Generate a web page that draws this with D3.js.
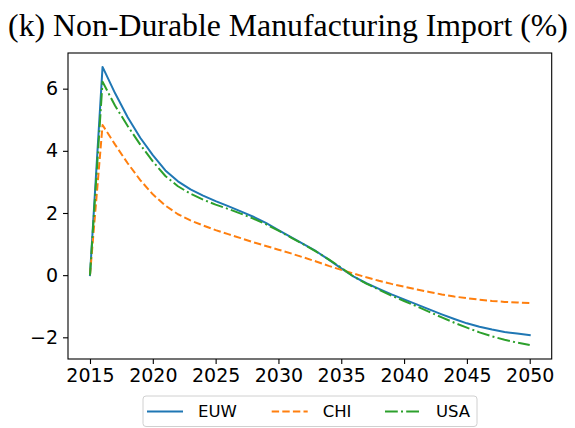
<!DOCTYPE html>
<html><head><meta charset="utf-8">
<script src="https://cdn.jsdelivr.net/npm/d3@7"></script>
<style>body{margin:0;background:#fff;} svg{display:block;}</style>
</head><body>
<script>
const years = d3.range(2015, 2051);
const xTicks = [2015, 2020, 2025, 2030, 2035, 2040, 2045, 2050];
const yTicks = [-2, 0, 2, 4, 6];
const seriesNames = ["EUW", "CHI", "USA"];
const euw = [0, 6.7, 5.85, 5.08, 4.42, 3.86, 3.37, 3.02, 2.76, 2.56, 2.38, 2.22, 2.05, 1.88, 1.68, 1.45, 1.22, 1.0, 0.77, 0.5, 0.22, -0.05, -0.26, -0.44, -0.62, -0.78, -0.94, -1.1, -1.26, -1.41, -1.55, -1.66, -1.75, -1.83, -1.88, -1.93];
const chi = [0, 4.83, 4.2, 3.6, 3.06, 2.6, 2.24, 1.96, 1.76, 1.6, 1.45, 1.32, 1.19, 1.06, 0.94, 0.82, 0.7, 0.57, 0.44, 0.3, 0.17, 0.05, -0.07, -0.18, -0.28, -0.37, -0.46, -0.54, -0.62, -0.69, -0.74, -0.79, -0.83, -0.86, -0.88, -0.9];
const usa = [0, 6.22, 5.45, 4.8, 4.2, 3.66, 3.19, 2.86, 2.62, 2.43, 2.27, 2.13, 1.98, 1.82, 1.64, 1.43, 1.21, 0.99, 0.76, 0.51, 0.24, -0.05, -0.27, -0.47, -0.66, -0.83, -1.0, -1.18, -1.36, -1.53, -1.69, -1.84, -1.97, -2.08, -2.17, -2.25];
const title = "(k) Non-Durable Manufacturing Import (%)";

const W = 575, H = 428;
const m = {left: 68, right: 551.7, top: 53, bottom: 359};
const svg = d3.select("body").append("svg").attr("width", W).attr("height", H);

const allVals = euw.concat(chi, usa);
const ymin = d3.min(allVals), ymax = d3.max(allVals);
const yPad = (ymax - ymin) * 0.05, xPad = (2050 - 2015) * 0.05;
const x = d3.scaleLinear().domain([2015 - xPad, 2050 + xPad]).range([m.left, m.right]);
const y = d3.scaleLinear().domain([ymin - yPad, ymax + yPad]).range([m.bottom, m.top]);

const styles = [
  {data: euw, color: "#1f77b4", dash: null},
  {data: chi, color: "#ff7f0e", dash: "7.4,3.2"},
  {data: usa, color: "#2ca02c", dash: "12.8,3.2,2,3.2"}
];

const line = d3.line().x((d, i) => x(years[i])).y(d => y(d));
const plot = svg.append("g");
styles.forEach(s => {
  plot.append("path").datum(s.data).attr("d", line)
    .attr("fill", "none").attr("stroke", s.color).attr("stroke-width", 2)
    .attr("stroke-dasharray", s.dash).attr("stroke-linecap", s.dash ? "butt" : "square")
    .attr("stroke-linejoin", "round");
});

const font = "DejaVu Sans, sans-serif";
const xAxis = svg.append("g").attr("transform", `translate(0,${m.bottom})`)
  .call(d3.axisBottom(x).tickValues(xTicks).tickFormat(d3.format("d")).tickSizeOuter(0).tickSize(5).tickPadding(5));
const yAxis = svg.append("g").attr("transform", `translate(${m.left},0)`)
  .call(d3.axisLeft(y).tickValues(yTicks).tickFormat(d => d < 0 ? "\u2212" + Math.abs(d) : d).tickSizeOuter(0).tickSize(5).tickPadding(5));
[xAxis, yAxis].forEach(a => {
  a.select(".domain").remove();
  a.selectAll("text").attr("font-family", font).attr("font-size", 19).attr("fill", "#000");
  a.selectAll("line").attr("stroke", "#000").attr("stroke-width", 1.1);
});

svg.append("rect").attr("x", m.left).attr("y", m.top)
  .attr("width", m.right - m.left).attr("height", m.bottom - m.top)
  .attr("fill", "none").attr("stroke", "#000").attr("stroke-width", 1.1);

svg.append("text").attr("x", 288).attr("y", 36).attr("text-anchor", "middle")
  .attr("font-family", "Liberation Serif, Times New Roman, serif").attr("font-size", 31.8)
  .attr("fill", "#000").text(title);

// legend
const lg = svg.append("g");
lg.append("rect").attr("x", 143).attr("y", 396).attr("width", 334).attr("height", 30.5)
  .attr("rx", 3).attr("fill", "#fff").attr("fill-opacity", 0.8)
  .attr("stroke", "#d0d0d0").attr("stroke-width", 1);
const lx = [147, 271.7, 385];
seriesNames.forEach((n, i) => {
  const s = styles[i];
  lg.append("line").attr("x1", lx[i]).attr("x2", lx[i] + 36).attr("y1", 411.5).attr("y2", 411.5)
    .attr("stroke", s.color).attr("stroke-width", 2).attr("stroke-dasharray", s.dash);
  lg.append("text").attr("x", lx[i] + 51).attr("y", 411.5).attr("dy", "0.36em")
    .attr("font-family", font).attr("font-size", 16.5).attr("fill", "#000").text(n);
});
</script>
</body></html>
